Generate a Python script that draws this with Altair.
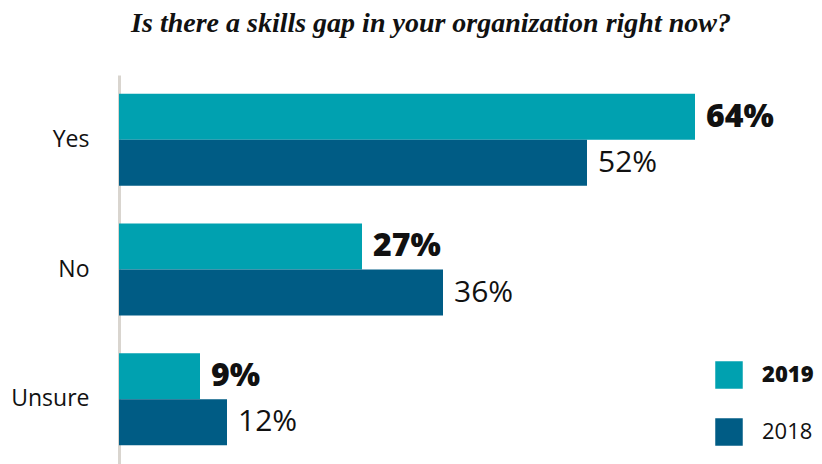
import altair as alt
import pandas as pd

categories = ["Yes", "No", "Unsure"]
years = ["2019", "2018"]
values_2019 = [64, 27, 9]
values_2018 = [52, 36, 12]

rows = []
for c, v19, v18 in zip(categories, values_2019, values_2018):
    rows.append({"answer": c, "year": "2019", "value": v19, "label": f"{v19}%"})
    rows.append({"answer": c, "year": "2018", "value": v18, "label": f"{v18}%"})
df = pd.DataFrame(rows)

y_enc = alt.Y("answer:N", sort=categories,
              scale=alt.Scale(paddingInner=0.29, paddingOuter=0.145),
              axis=alt.Axis(title=None, domainColor="#d9d5cf", domainWidth=3, ticks=False,
                            labelFontSize=23, labelFont="Open Sans", labelFontWeight=500,
                            labelColor="#111111", labelPadding=30))
yoff = alt.YOffset("year:N", sort=years)
x_enc = alt.X("value:Q", scale=alt.Scale(domain=[0, 70]), axis=None)

bars = alt.Chart(df).mark_bar().encode(
    x=x_enc, y=y_enc, yOffset=yoff,
    color=alt.Color("year:N", sort=years,
                    scale=alt.Scale(domain=years, range=["#00A1B0", "#005C85"]),
                    legend=alt.Legend(title=None, orient="none", legendX=596, legendY=286,
                                      symbolType="square", symbolSize=756, symbolStrokeWidth=0,
                                      labelFontSize=22, labelFont="Open Sans", labelColor="#111111",
                                      labelFontWeight=alt.ExprRef("datum.label == '2019' ? 800 : 500"),
                                      labelOffset=19, rowPadding=29))
)

def value_text(year, weight, size):
    return alt.Chart(df).transform_filter(alt.datum.year == year).mark_text(
        align="left", baseline="middle", dx=11, font="Open Sans",
        fontSize=size, fontWeight=weight, color="#111111").encode(
        x=x_enc, y=alt.Y("answer:N", sort=categories), yOffset=yoff, text="label:N")

text19 = value_text("2019", 900, 32)
text18 = value_text("2018", 500, 30)

chart = alt.layer(bars, text19, text18).properties(
    width=630, height=389,
    autosize=alt.AutoSizeParams(type="none"),
    padding={"left": 111, "top": 67, "right": 65, "bottom": 0},
    title=alt.TitleParams("Is there a skills gap in your organization right now?",
                          font="Liberation Serif", fontSize=28, fontStyle="italic",
                          fontWeight="bold", color="#111111", anchor="middle", offset=37,
                          dx=-3),
).configure_view(stroke=None)

chart.save("out.html", embed_options={"renderer": "svg", "actions": False})
